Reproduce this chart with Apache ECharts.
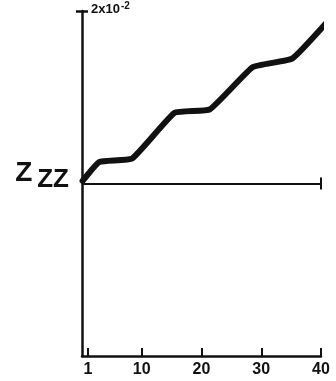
<!DOCTYPE html>
<html><head><meta charset="utf-8">
<script src="https://cdn.jsdelivr.net/npm/echarts@6/dist/echarts.min.js"></script>
<style>html,body{margin:0;padding:0;background:#fff}#c{width:336px;height:381px}</style>
</head><body><div id="c"></div>
<script>
const xValues = [0.1, 2.9, 8.4, 15.5, 21.4, 28.6, 35.2, 42.4];
const yValues = [0.0003, 0.0025, 0.0029, 0.0082, 0.0086, 0.0135, 0.0145, 0.0198];
const xTickValues = [1, 10, 20, 30, 40];
const xTickLabels = ['1', '10', '20', '30', '40'];
const yMin = -0.02, yMax = 0.02;
const xMin = 0, xMax = 40;
const yTopValue = 0.02;
const yTopLabel = ['2x10', '-2'];
const yName = ['Z', 'ZZ'];

const font = '"Liberation Sans", sans-serif';
const chart = echarts.init(document.getElementById('c'));
const black = '#111';
chart.setOption({
  animation: false,
  grid: { left: 82, right: 15, top: 11, bottom: 25, containLabel: false },
  xAxis: {
    type: 'value', min: xMin, max: xMax,
    axisLine: { show: true, onZero: false, lineStyle: { color: black, width: 2.5 } },
    axisTick: { show: true, inside: true, length: 8, customValues: xTickValues, lineStyle: { color: black, width: 2 } },
    axisLabel: {
      customValues: xTickValues, margin: 6, color: black,
      fontFamily: font, fontSize: 16, fontWeight: 'bold',
      formatter: v => xTickLabels[xTickValues.indexOf(v)]
    },
    splitLine: { show: false }
  },
  yAxis: [{
    type: 'value', min: yMin, max: yMax, position: 'left',
    axisLine: { show: true, lineStyle: { color: black, width: 2.5 } },
    axisTick: { show: true, length: 6, customValues: [yTopValue], lineStyle: { color: black, width: 2.5 } },
    axisLabel: {
      customValues: [0], margin: 13,
      formatter: () => '{a|' + yName[0] + '}{b|' + yName[1] + '}',
      rich: {
        a: { fontFamily: font, fontSize: 28, fontWeight: 'bold', color: black, padding: [0, 5, 20, 0] },
        b: { fontFamily: font, fontSize: 26, fontWeight: 'bold', color: black, padding: [0, 0, 8, 0] }
      }
    },
    splitLine: { show: false }
  }, {
    type: 'value', min: yMin, max: yMax, position: 'left', offset: 0,
    axisLine: { show: false },
    axisTick: { show: true, inside: true, length: 6, customValues: [yTopValue], lineStyle: { color: black, width: 2.5 } },
    axisLabel: {
      inside: true, customValues: [yTopValue], margin: 9,
      formatter: () => '{a|' + yTopLabel[0] + '}{b|' + yTopLabel[1] + '}',
      rich: {
        a: { fontFamily: font, fontSize: 13, fontWeight: 'bold', color: black, padding: [0, 1, 3, 0] },
        b: { fontFamily: font, fontSize: 10, fontWeight: 'bold', color: black, padding: [0, 0, 9, 0] }
      }
    },
    splitLine: { show: false }
  }],
  series: [{
    type: 'line', data: xValues.map((x, i) => [x, yValues[i]]),
    showSymbol: false, symbol: 'none', clip: false, smooth: 0.12,
    lineStyle: { color: black, width: 6, cap: 'round', join: 'round' },
    markLine: {
      silent: true, symbol: 'none', label: { show: false },
      lineStyle: { color: black, width: 2, type: 'solid' },
      data: [
        [{ coord: [xMin, 0] }, { coord: [xMax, 0] }],
        [{ coord: [xMax, -0.0007] }, { coord: [xMax, 0.0007] }]
      ]
    }
  }]
});
</script></body></html>
